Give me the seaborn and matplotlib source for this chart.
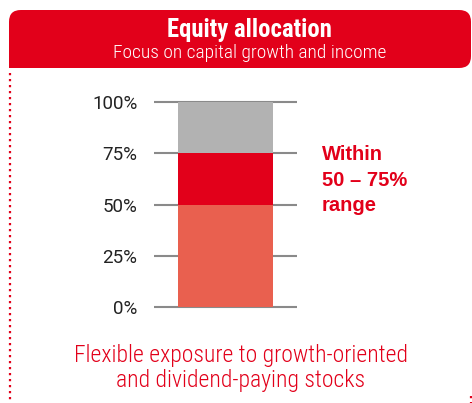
import matplotlib
matplotlib.use("Agg")
import matplotlib.pyplot as plt
import seaborn as sns
import pandas as pd
import numpy as np
from matplotlib.patches import FancyBboxPatch, Rectangle
from matplotlib.lines import Line2D

# ---- data ----
segments = ["Core", "Flexible", "Other"]
segment_values = [50, 25, 25]
segment_colors = ["#E9604F", "#E2001A", "#B2B2B2"]
tick_values = [0, 25, 50, 75, 100]
tick_labels = ["0%", "25%", "50%", "75%", "100%"]
title = "Equity allocation"
subtitle = "Focus on capital growth and income"
note_lines = ["Within", "50 – 75%", "range"]
footer_lines = ["Flexible exposure to growth-oriented", "and dividend-paying stocks"]

RED = "#E2001A"
COND = ["Roboto Condensed", "DejaVu Sans"]
W, H = 472, 403
sns.set_style("white")
fig = plt.figure(figsize=(W / 100, H / 100), dpi=100)

def fx(x):
    return x / W
def fy(y):
    return 1 - y / H

# axes: data 0 at y=307px, 100 at y=102px; pad 1 unit
ppu = (307 - 102) / 100.0
ymin, ymax = -1.0, 101.0
ax_bottom_px = 307 + (0 - ymin) * ppu
ax_top_px = 102 - (ymax - 100) * ppu
ax = fig.add_axes([fx(154), fy(ax_bottom_px), fx(297) - fx(154), (ax_bottom_px - ax_top_px) / H])

cum = np.cumsum(segment_values)
df = pd.DataFrame({"segment": segments, "top": cum, "color": segment_colors})
for i in range(len(df) - 1, -1, -1):
    sub = pd.DataFrame({"g": ["Equity"], "v": [df["top"].iloc[i]]})
    sns.barplot(data=sub, x="g", y="v", color=df["color"].iloc[i], width=95 / 143,
                saturation=1, ax=ax, zorder=3, linewidth=0)

ax.set_xlim(-0.5, 0.5)
ax.set_ylim(ymin, ymax)
ax.set_yticks(tick_values)
ax.set_yticklabels(tick_labels, fontfamily="Roboto", fontsize=13.5, color="#222222")
ax.tick_params(axis="y", length=0, pad=12)
ax.set_xticks([])
ax.set_xlabel("")
ax.set_ylabel("")
ax.yaxis.grid(True, color="#8a8a8a", linewidth=1.5, zorder=0)
ax.xaxis.grid(False)
ax.set_axisbelow(True)
for s in ax.spines.values():
    s.set_visible(False)
ax.patch.set_alpha(0)

# header box
hb = FancyBboxPatch((fx(9), fy(68)), fx(471) - fx(9), fy(10) - fy(68),
                    boxstyle="round,pad=0,rounding_size=0.025",
                    transform=fig.transFigure, facecolor=RED, edgecolor="none",
                    mutation_aspect=W / H)
fig.patches.append(hb)
fig.patches.append(Rectangle((fx(9), fy(68)), fx(40) - fx(9), fy(40) - fy(68),
                             transform=fig.transFigure, facecolor=RED, edgecolor="none"))

fig.text(fx(249), fy(37), title, ha="center", va="baseline", color="white",
         fontsize=17.8, fontweight="bold", family=COND)
fig.text(fx(250), fy(58), subtitle, ha="center", va="baseline", color="white",
         fontsize=14, fontweight="light", family=COND)

# dotted border
fig.lines.append(Line2D([fx(10), fx(10)], [fy(73), fy(403)], transform=fig.transFigure,
                        color=RED, linewidth=1.6, linestyle=(0, (1, 1.7))))
fig.lines.append(Line2D([fx(470.5), fx(470.5)], [fy(396), fy(403)], transform=fig.transFigure,
                        color=RED, linewidth=1.6, linestyle=(0, (1, 1.7))))

# note
for line, yb in zip(note_lines, [160, 186, 211]):
    fig.text(fx(322), fy(yb), line, ha="left", va="baseline", color=RED,
             fontsize=14.5, fontweight="bold", family=["Liberation Sans", "DejaVu Sans"])

# footer
for line, yb in zip(footer_lines, [362, 387]):
    fig.text(fx(241), fy(yb), line, ha="center", va="baseline", color=RED,
             fontsize=17, fontweight="light", family=COND)

fig.savefig("out.png", dpi=100)
